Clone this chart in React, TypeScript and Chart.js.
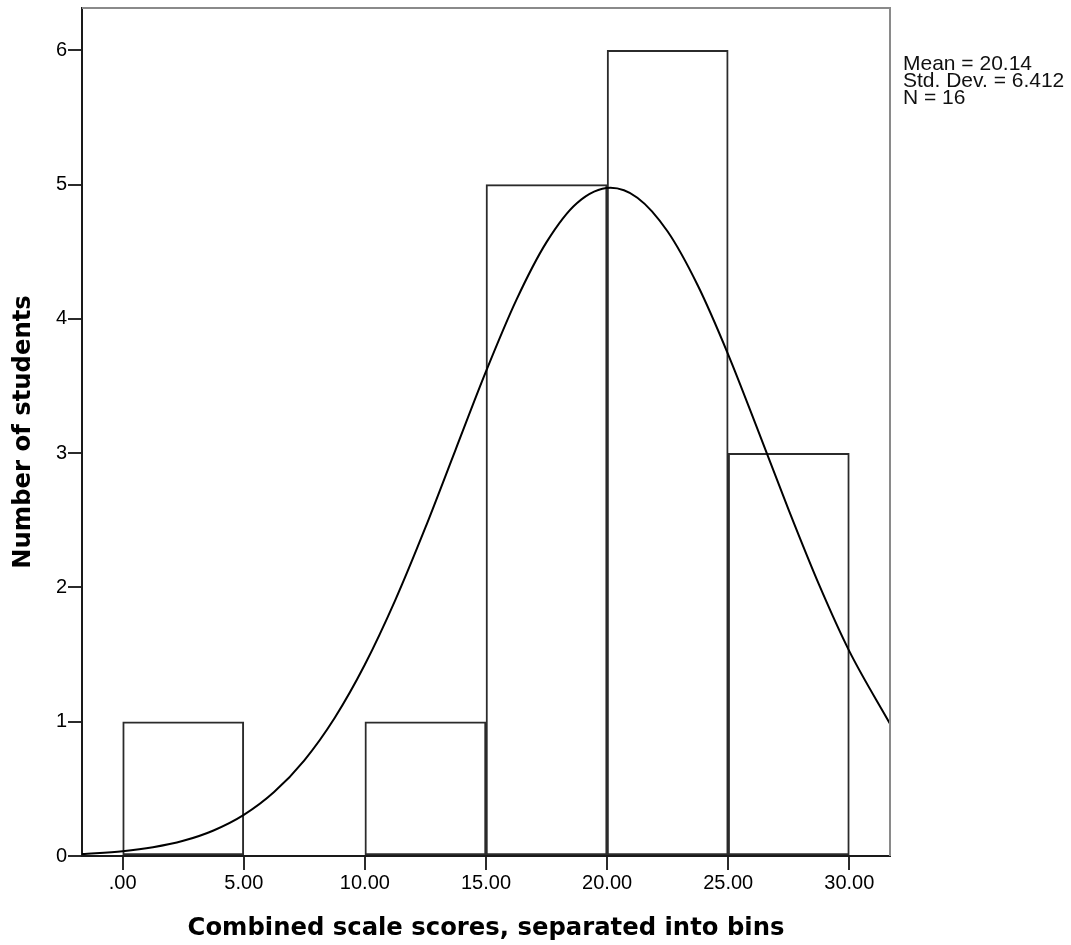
import React, { useEffect, useRef } from "react";
import { Chart, registerables } from "chart.js";

Chart.register(...registerables);

// Histogram bins (centre of each 5-wide bin) and counts
const binCenters = [2.5, 7.5, 12.5, 17.5, 22.5, 27.5];
const binCounts: (number | null)[] = [1, null, 1, 5, 6, 3];

// Normal curve
const curveX = [-1.68, 0, 1.25, 2.5, 3.75, 5, 6.25, 7.5, 8.75, 10, 11.25, 12.5, 13.75, 15, 16.25, 17.5, 18.75, 20.14, 21.25, 22.5, 23.75, 25, 26.25, 27.5, 28.75, 30, 31.68];
const curveY = [0.015, 0.036, 0.065, 0.113, 0.19, 0.306, 0.476, 0.713, 1.028, 1.426, 1.904, 2.447, 3.029, 3.609, 4.14, 4.572, 4.862, 4.977, 4.903, 4.651, 4.247, 3.735, 3.161, 2.576, 2.021, 1.526, 0.985];

const xTickValues = [0, 5, 10, 15, 20, 25, 30];
const xTickLabels = [".00", "5.00", "10.00", "15.00", "20.00", "25.00", "30.00"];
const yTickValues = [0, 1, 2, 3, 4, 5, 6];
const yTickLabels = ["0", "1", "2", "3", "4", "5", "6"];

const statsLines = ["Mean = 20.14", "Std. Dev. = 6.412", "N = 16"];
const xTitle = "Combined scale scores, separated into bins";
const yTitle = "Number of students";

const tickFont = { family: '"Liberation Sans", Arial, sans-serif', size: 20 };
const titleFont = { family: '"DejaVu Sans", Verdana, sans-serif', size: 24.3, weight: "bold" as const };

const framePlugin = {
  id: "spssFrame",
  afterDraw(chart: any) {
    const { ctx, chartArea } = chart;
    const { left, top, right, bottom } = chartArea;
    ctx.save();
    ctx.strokeStyle = "#8a8a8a";
    ctx.lineWidth = 2;
    ctx.beginPath();
    ctx.moveTo(left, top);
    ctx.lineTo(right, top);
    ctx.lineTo(right, bottom);
    ctx.stroke();
    ctx.fillStyle = "#111";
    ctx.font = '21px "Liberation Sans", Arial, sans-serif';
    ctx.textBaseline = "alphabetic";
    ctx.textAlign = "left";
    statsLines.forEach((t, i) => ctx.fillText(t, 903, 69.5 + i * 17));
    ctx.restore();
  },
};

export default function App() {
  const ref = useRef<HTMLCanvasElement | null>(null);

  useEffect(() => {
    if (!ref.current) return;
    const chart = new Chart(ref.current, {
      type: "bar",
      data: {
        datasets: [
          {
            type: "line",
            label: "Normal",
            data: curveX.map((x, i) => ({ x, y: curveY[i] })),
            borderColor: "#000",
            borderWidth: 2,
            pointRadius: 0,
            fill: false,
            cubicInterpolationMode: "monotone",
            order: 0,
          } as any,
          {
            type: "bar",
            label: "Count",
            data: binCenters.map((x, i) => ({ x, y: binCounts[i] })),
            backgroundColor: "#ffffff",
            borderColor: "#2b2b2b",
            borderWidth: 2,
            borderSkipped: false,
            barPercentage: 1,
            categoryPercentage: 1,
            order: 1,
          } as any,
        ],
      },
      options: {
        animation: false,
        responsive: false,
        maintainAspectRatio: false,
        layout: { padding: { left: 0, top: 8, right: 181, bottom: 0 } },
        plugins: { legend: { display: false }, tooltip: { enabled: false } },
        scales: {
          x: {
            type: "linear",
            min: -1.68,
            max: 31.68,
            offset: false,
            afterBuildTicks: (s: any) => {
              s.ticks = xTickValues.map((v) => ({ value: v }));
            },
            afterFit: (s: any) => {
              s.height = 89;
              s.paddingLeft = 0;
              s.paddingRight = 0;
            },
            ticks: {
              autoSkip: false,
              maxRotation: 0,
              padding: 1,
              color: "#000",
              font: tickFont,
              callback: (v: any) => xTickLabels[xTickValues.indexOf(Number(v))] ?? "",
            },
            grid: {
              offset: false,
              drawOnChartArea: false,
              drawTicks: true,
              tickLength: 14,
              color: "#2b2b2b",
              tickColor: "#2b2b2b",
              lineWidth: 2,
            },
            border: { display: true, color: "#1a1a1a", width: 2 },
            title: {
              display: true,
              text: xTitle,
              color: "#000",
              font: titleFont,
              padding: { top: 0, bottom: 2 },
            },
          },
          y: {
            type: "linear",
            min: 0,
            max: 6.316,
            afterBuildTicks: (s: any) => {
              s.ticks = yTickValues.map((v) => ({ value: v }));
            },
            afterFit: (s: any) => {
              s.width = 82;
              s.paddingTop = 0;
              s.paddingBottom = 0;
            },
            ticks: {
              padding: 1,
              color: "#000",
              font: tickFont,
              callback: (v: any) => yTickLabels[yTickValues.indexOf(Number(v))] ?? "",
            },
            grid: {
              drawOnChartArea: false,
              drawTicks: true,
              tickLength: 14,
              color: "#2b2b2b",
              tickColor: "#2b2b2b",
              lineWidth: 2,
            },
            border: { display: true, color: "#1a1a1a", width: 2 },
            title: {
              display: true,
              text: yTitle,
              color: "#000",
              font: titleFont,
              padding: { top: 9, bottom: 0 },
            },
          },
        },
      } as any,
      plugins: [framePlugin],
    });
    return () => chart.destroy();
  }, []);

  return (
    <div style={{ position: "absolute", left: 0, top: 0, width: 1071, height: 945, background: "#fff" }}>
      <canvas ref={ref} width={1071} height={945} style={{ display: "block" }} />
    </div>
  );
}
